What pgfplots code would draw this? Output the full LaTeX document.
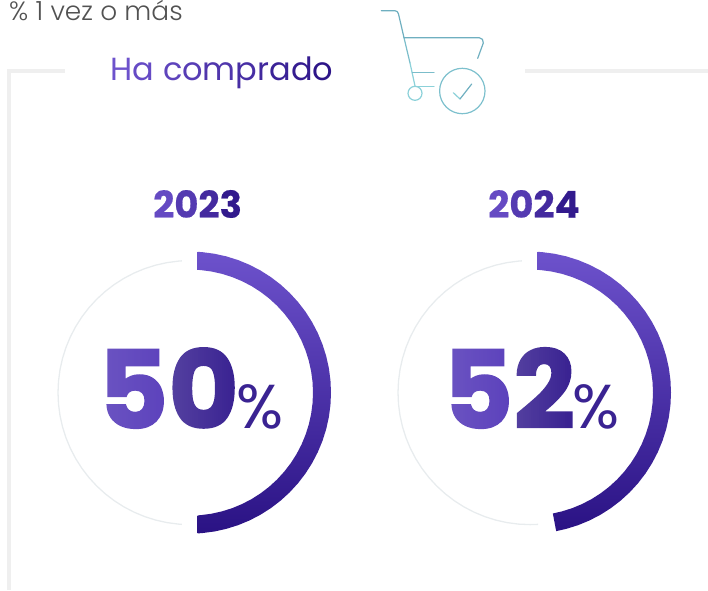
\documentclass[border=0pt]{standalone}
\usepackage{fontspec}
\setmainfont{Poppins}
\newfontfamily\plight{Poppins Light}
\newfontfamily\pbig{Poppins Bold}[FakeBold=1.5]
\newfontfamily\pyear{Poppins Bold}[FakeBold=0.5]
\usepackage{pgfplots}
\pgfplotsset{compat=1.18}
\usepgfplotslibrary{polar}

\definecolor{purpA}{HTML}{6D52CC}
\definecolor{purpB}{HTML}{2A1284}
\definecolor{purpC}{HTML}{3A2392}
\definecolor{purpM}{HTML}{5C42BC}
\definecolor{ringgray}{HTML}{E8ECEE}
\definecolor{framegray}{HTML}{EFEFEF}
\definecolor{cartA}{HTML}{6FAFC0}
\definecolor{cartB}{HTML}{8CD1D9}

\pgfplotsset{ring/.style={
    scale only axis, width=282pt, height=282pt,
    anchor=center, hide axis, clip=false,
    xmin=0, xmax=360, ymin=0, ymax=141,
}}

% white strips of falling opacity over a digit: it pales to the left
\newcommand\pale[3]{%
  \foreach \i in {0,...,30} {
    \pgfmathsetmacro\xs{#1+2*\i}
    \pgfmathsetmacro\al{max(0,#3*(1-2*\i/(#2-#1)))}
    \pgfmathparse{\xs<#2 ? 1 : 0}
    \ifnum\pgfmathresult=1
      \fill[white, fill opacity=\al] (\xs,-340) rectangle (\xs+2,-440);
    \fi
  }%
}

\begin{document}
\begin{tikzpicture}[x=1pt,y=1pt]
\useasboundingbox (0,0) rectangle (708,-590);

% marco
\fill[framegray] (7,-68.5) rectangle (65,-72.5);
\fill[framegray] (7,-68.5) rectangle (11,-590);
\fill[framegray] (525,-68.5) rectangle (708,-72.5);

% textos
\node[anchor=base west, inner sep=0pt, text=black!68, font=\fontsize{26.4}{26.4}\plight] at (9,-20.5) {\% 1 vez o más};
\node[anchor=base west, inner sep=0pt, font=\fontsize{32}{32}\selectfont] at (110.5,-80.5) {%
  \textcolor{purpA}{H}\textcolor{purpA!90!purpB}{a} \textcolor{purpA!78!purpB}{c}\textcolor{purpA!68!purpB}{o}\textcolor{purpA!56!purpB}{m}\textcolor{purpA!44!purpB}{p}\textcolor{purpA!34!purpB}{r}\textcolor{purpA!26!purpB}{a}\textcolor{purpA!16!purpB}{d}\textcolor{purpA!5!purpB}{o}};
\node[anchor=base west, inner sep=0pt, font=\fontsize{37}{37}\pyear] at (153,-217.7) {%
  \textcolor{purpA!88!purpB}{2}\textcolor{purpA!62!purpB}{0}\textcolor{purpA!38!purpB}{2}\textcolor{purpA!12!purpB}{3}};
\node[anchor=base west, inner sep=0pt, font=\fontsize{37}{37}\pyear] at (488,-217.7) {%
  \textcolor{purpA!88!purpB}{2}\textcolor{purpA!62!purpB}{0}\textcolor{purpA!38!purpB}{2}\textcolor{purpA!12!purpB}{4}};
\node[anchor=base west, inner sep=0pt, font=\fontsize{108}{108}\pbig] at (98,-428.3) {\textcolor{purpM}{5}\textcolor{purpC}{0}};
\pale{104}{168}{0.09}
\pale{168}{234}{0.14}
\node[anchor=base west, inner sep=0pt, font=\fontsize{108}{108}\pbig] at (443,-428.3) {\textcolor{purpM}{5}\textcolor{purpC}{2}};
\pale{449}{511}{0.09}
\pale{511}{569}{0.14}
\node[anchor=base west, inner sep=0pt, text=purpC, font=\fontsize{62}{62}\selectfont] at (236,-428.3) {\%};
\node[anchor=base west, inner sep=0pt, text=purpC, font=\fontsize{62}{62}\selectfont] at (572,-428.3) {\%};

% carrito
\begin{scope}[line width=1.2pt, line cap=round, line join=round]
\draw[cartA] (381.3,-10.7) -- (395,-10.7) to[out=0,in=100] (398.5,-14) -- (404,-37.7);
\draw[cartA!60!cartB] (404,-37.7) -- (410,-63);
\draw[cartB] (410,-63) -- (415,-86);
\draw[cartA] (404,-37.7) -- (479.3,-37.7) to[out=0,in=80] (483.3,-43) -- (477.7,-58.3);
\draw[cartA!60!cartB] (412.3,-72.7) -- (434,-72.7);
\draw[cartB] (417.3,-86.7) -- (434,-86.7);
\draw[cartB] (415,-93.3) circle (7);
\draw[cartA!50!cartB] (462.3,-91) circle (22.7);
\draw[cartB] (453.3,-92.7) -- (460,-99);
\draw[cartA] (460,-99) -- (471.7,-84);
\end{scope}

% 2023
\begin{polaraxis}[ring, at={(190pt,-392.6pt)}]
\addplot[ringgray, line width=1.3pt, no markers] coordinates {
  (93.5,132) (95,132) (100,132) (105,132) (110,132) (115,132) (120,132) (125,132) (130,132) (135,132) (140,132) (145,132) (150,132) (155,132) (160,132) (165,132) (170,132) (175,132)
  (180,132) (185,132) (190,132) (195,132) (200,132) (205,132) (210,132) (215,132) (220,132) (225,132) (230,132) (235,132) (240,132) (245,132) (250,132) (255,132) (260,132) (265,132) (266.5,132)};
\addplot[draw=none, no markers, top color=purpA, bottom color=purpB] coordinates {
  (86.87,141) (85,141) (80,141) (75,141) (70,141) (65,141) (60,141) (55,141) (50,141) (45,141) (40,141) (35,141)
  (30,141) (25,141) (20,141) (15,141) (10,141) (5,141) (0,141) (-5,141) (-10,141) (-15,141) (-20,141) (-25,141)
  (-30,141) (-35,141) (-40,141) (-45,141) (-50,141) (-55,141) (-60,141) (-65,141) (-70,141) (-75,141) (-80,141) (-85,141) (-86.87,141)
  (-86.41,123) (-85,123) (-80,123) (-75,123) (-70,123) (-65,123) (-60,123) (-55,123) (-50,123) (-45,123) (-40,123) (-35,123)
  (-30,123) (-25,123) (-20,123) (-15,123) (-10,123) (-5,123) (0,123) (5,123) (10,123) (15,123) (20,123) (25,123)
  (30,123) (35,123) (40,123) (45,123) (50,123) (55,123) (60,123) (65,123) (70,123) (75,123) (80,123) (85,123) (86.41,123) (86.87,141)};
\end{polaraxis}

% 2024
\begin{polaraxis}[ring, at={(530pt,-392.6pt)}]
\addplot[ringgray, line width=1.3pt, no markers] coordinates {
  (93.5,132) (95,132) (100,132) (105,132) (110,132) (115,132) (120,132) (125,132) (130,132) (135,132) (140,132) (145,132) (150,132) (155,132) (160,132) (165,132) (170,132) (175,132)
  (180,132) (185,132) (190,132) (195,132) (200,132) (205,132) (210,132) (215,132) (220,132) (225,132) (230,132) (235,132) (240,132) (245,132) (250,132) (255,132) (260,132) (265,132) (270,132) (273.5,132)};
\addplot[draw=none, no markers, top color=purpA, bottom color=purpB] coordinates {
  (86.87,141) (85,141) (80,141) (75,141) (70,141) (65,141) (60,141) (55,141) (50,141) (45,141) (40,141) (35,141)
  (30,141) (25,141) (20,141) (15,141) (10,141) (5,141) (0,141) (-5,141) (-10,141) (-15,141) (-20,141) (-25,141)
  (-30,141) (-35,141) (-40,141) (-45,141) (-50,141) (-55,141) (-60,141) (-65,141) (-70,141) (-75,141) (-79.3,141)
  (-79.3,123) (-75,123) (-70,123) (-65,123) (-60,123) (-55,123) (-50,123) (-45,123) (-40,123) (-35,123)
  (-30,123) (-25,123) (-20,123) (-15,123) (-10,123) (-5,123) (0,123) (5,123) (10,123) (15,123) (20,123) (25,123)
  (30,123) (35,123) (40,123) (45,123) (50,123) (55,123) (60,123) (65,123) (70,123) (75,123) (80,123) (85,123) (86.41,123) (86.87,141)};
\end{polaraxis}
\end{tikzpicture}
\end{document}
